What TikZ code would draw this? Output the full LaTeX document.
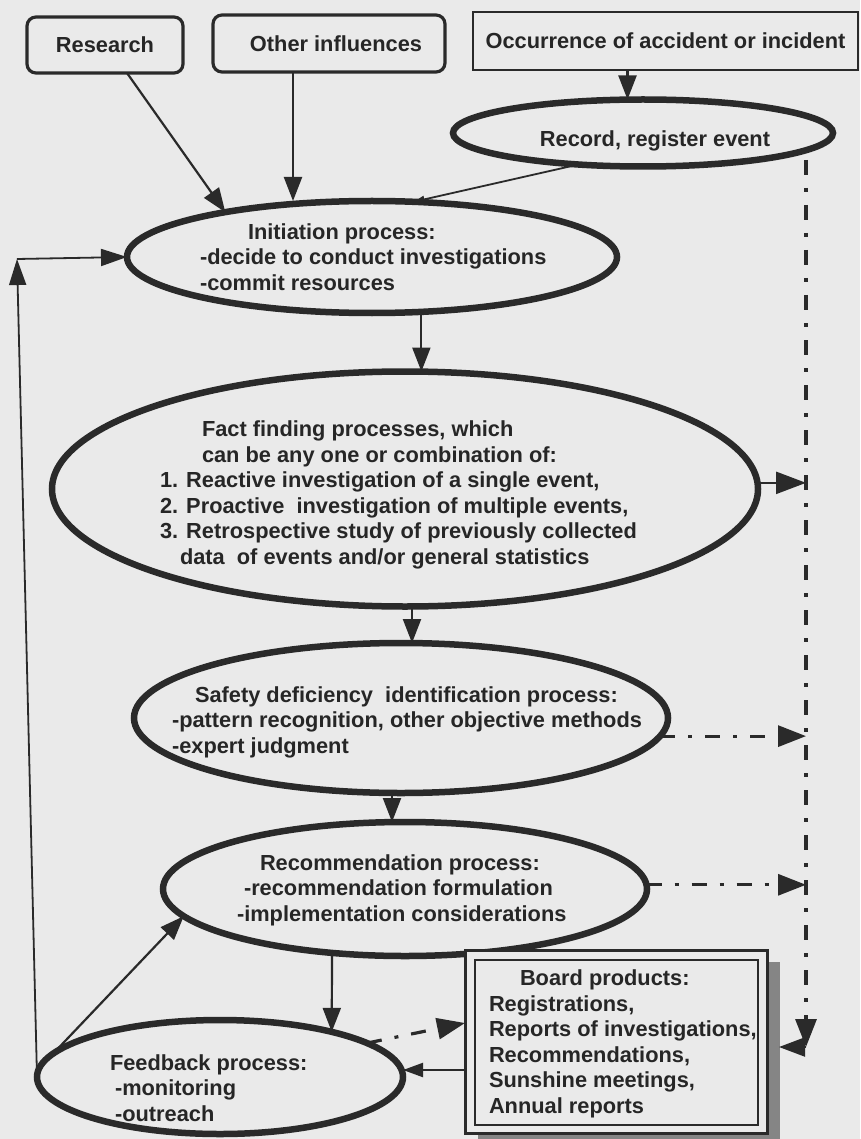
\documentclass[tikz,border=0pt]{standalone}
\usepackage{fontspec}
\setmainfont{Liberation Sans}
\usetikzlibrary{arrows.meta,shapes.geometric,calc}
\definecolor{bgc}{HTML}{EAEAEA}
\definecolor{ink}{HTML}{2A2A2A}
\definecolor{txtc}{HTML}{262626}
\definecolor{shadowc}{HTML}{858585}
\begin{document}
\begin{tikzpicture}[x=1pt,y=-1pt,
  every node/.style={inner sep=0pt,outer sep=0pt},
  lbl/.style={font={\fontsize{21.8pt}{25.5pt}\selectfont\bfseries}, text=txtc, align=left},
  oval/.style={ellipse, draw=ink, line width=6.5pt},
  rbox/.style={draw=ink, line width=3.2pt, rounded corners=9pt, fill=bgc},
  conn/.style={draw=ink, line width=2.2pt, -{Triangle[length=24pt,width=18pt]}},
  thinconn/.style={draw=ink, line width=1.8pt, -{Triangle[length=11pt,width=7pt]}},
  loopconn/.style={draw=ink, line width=1.8pt, -{Triangle[length=26pt,width=17pt]}},
  bigconn/.style={draw=ink, line width=2.5pt, -{Triangle[length=30pt,width=22pt]}},
  ddash/.style={draw=ink, line width=3.2pt, dash pattern=on 15pt off 13pt on 4pt off 13pt},
  ddarr/.style={ddash, -{Triangle[length=28pt,width=21pt]}}
]
\fill[bgc] (0,0) rectangle (860,1139);
\useasboundingbox (0,0) rectangle (860,1139);

% top boxes
\node[rbox, minimum width=156pt, minimum height=56pt, lbl] (research) at (105,45) {Research};
\node[rbox, minimum width=232pt, minimum height=57pt, lbl] (other) at (329,43.5) {\hspace*{14pt}Other influences};
\node[draw=ink, line width=2.8pt, fill=bgc, minimum width=385pt, minimum height=58pt, lbl] (occ) at (665.5,41) {Occurrence of accident or incident};

% ovals
\node[oval, minimum width=380pt, minimum height=67pt] (record) at (643,133) {};
\node[lbl] (recordT) at (655,141) {Record, register event};

\node[oval, minimum width=490pt, minimum height=112pt] (initp) at (372,257) {};
\node[lbl, anchor=west] (initT) at (200,257) {\hspace*{48pt}Initiation process:\\-decide to conduct investigations\\-commit resources};

\node[oval, minimum width=706pt, minimum height=235pt] (fact) at (405,489) {};
\node[lbl, anchor=west] (factT) at (160,495) {\hspace*{42pt}Fact finding processes, which\\\hspace*{42pt}can be any one or combination of:\\1. Reactive investigation of a single event,\\2. Proactive\ \ investigation of multiple events,\\3. Retrospective study of previously collected\\\hspace*{20pt}data\ \ of events and/or general statistics};

\node[oval, minimum width=534pt, minimum height=150pt] (safety) at (401,718) {};
\node[lbl, anchor=west] (safeT) at (172,722) {\hspace*{23pt}Safety deficiency\ \ identification process:\\-pattern recognition, other objective methods\\-expert judgment};

\node[oval, minimum width=484pt, minimum height=134pt] (recom) at (405,889) {};
\node[lbl, anchor=west] (recomT) at (237,890) {\hspace*{23pt}Recommendation process:\\\hspace*{7pt}-recommendation formulation\\-implementation considerations};

\node[oval, minimum width=366pt, minimum height=114pt] (feedback) at (220,1077) {};
\node[lbl, anchor=west] (fbT) at (110,1088) {Feedback process:\\\hspace*{5pt}-monitoring\\\hspace*{5pt}-outreach};

% board products box
\fill[shadowc] (478,962) rectangle (780,1145);
\node[draw=ink, line width=3pt, fill=bgc, minimum width=302pt, minimum height=183pt] (board) at (616,1041.5) {};
\draw[ink, line width=1.6pt] ([shift={(10,10)}]board.north west) rectangle ([shift={(-9,-8)}]board.south east);
\node[lbl, anchor=west] (boardT) at (489,1044) {\hspace*{31pt}Board products:\\Registrations,\\Reports of investigations,\\Recommendations,\\Sunshine meetings,\\Annual reports};

% helper coordinates
\coordinate (res1) at ([xshift=22pt]research.south);
\coordinate (oth1) at ([xshift=-36pt]other.south);
\coordinate (occ1) at ([xshift=-38pt]occ.south);
\coordinate (ini1) at (initp.-48);
\coordinate (ff1) at ([xshift=7pt]fact.south);
\coordinate (sf1) at ([xshift=-9pt]safety.south);
\coordinate (rc1) at ([xshift=-73pt]recom.south);
\coordinate (bw1) at ([yshift=-28.5pt]board.west);
\coordinate (bw2) at ([yshift=18.5pt]board.west);
\coordinate (be1) at ([xshift=12pt]board.east);
\coordinate (dtop) at (806,160);
\coordinate (dbot) at (806,1047);
\coordinate (ltop) at (17,259);
\coordinate (fa1) at (fact.1);
\coordinate (sa1) at (safety.-4);
\coordinate (re1) at (recom.1);

% connectors
\draw[conn] (res1) -- (initp.163);
\draw[conn] (oth1) -- (oth1 |- initp.north);
\draw[conn] (occ1) -- (occ1 |- record.north);
\draw[thinconn] (record.206) -- (initp.53);
\draw[conn] (ini1) -- (ini1 |- fact.north);
\draw[conn] (ff1) -- (ff1 |- safety.north);
\draw[conn] (sf1) -- (sf1 |- recom.north);
\draw[conn] (rc1) -- (feedback.22);
\draw[conn] (feedback.172) -- (recom.187);
\draw[loopconn] (feedback.west) -- (ltop);
\draw[loopconn] (ltop) -- (initp.west);

% dash-dot lines to board products
\draw[ddarr] (dtop) -- (dbot);
\draw[bigconn] (fa1) -- (fa1 -| dtop);
\draw[ddarr] (sa1) -- (sa1 -| dtop);
\draw[ddarr] (re1) -- (re1 -| dtop);
\draw[conn, -{Triangle[length=26pt,width=19pt]}] (dbot) -- (dbot -| be1);
\draw[ddarr] (feedback.13) -- (bw2);
\draw[conn, -{Triangle[length=20pt,width=14pt]}] (bw1) -- (bw1 -| feedback.east);
\end{tikzpicture}
\end{document}
